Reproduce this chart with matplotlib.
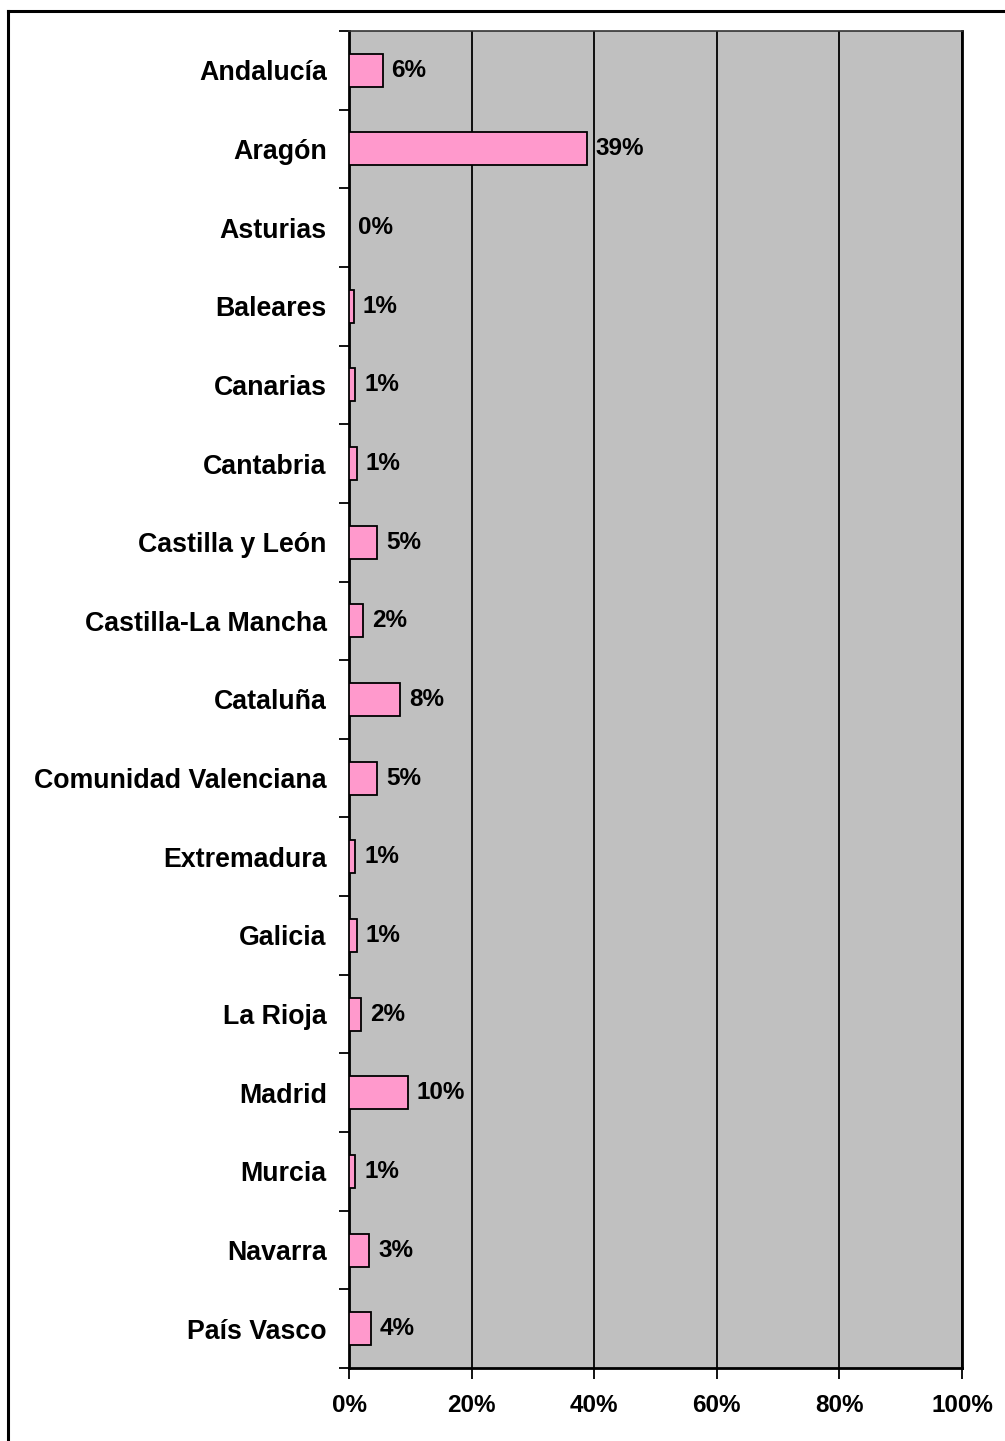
import matplotlib
matplotlib.use("Agg")
import matplotlib.pyplot as plt
from matplotlib.lines import Line2D
import numpy as np

regions = ["Andalucía", "Aragón", "Asturias", "Baleares", "Canarias", "Cantabria",
           "Castilla y León", "Castilla-La Mancha", "Cataluña", "Comunidad Valenciana",
           "Extremadura", "Galicia", "La Rioja", "Madrid", "Murcia", "Navarra", "País Vasco"]
values = [5.5, 38.8, 0.0, 0.8, 1.0, 1.3, 4.6, 2.3, 8.4, 4.6, 1.0, 1.3, 2.0, 9.6, 1.0, 3.3, 3.6]
labels = ["6%", "39%", "0%", "1%", "1%", "1%", "5%", "2%", "8%", "5%", "1%", "1%", "2%",
          "10%", "1%", "3%", "4%"]
xticks = [0, 20, 40, 60, 80, 100]
xticklabels = ["0%", "20%", "40%", "60%", "80%", "100%"]

plt.rcParams['font.family'] = ['Liberation Sans', 'DejaVu Sans']
plt.rcParams['font.weight'] = 'bold'

W, H = 1005, 1441
fig = plt.figure(figsize=(W / 100, H / 100), dpi=100)
fig.patch.set_facecolor("white")

# outer border (only top and left visible in the reference)
fig.add_artist(Line2D([8 / W, 8 / W], [0, 1 - 11 / H], transform=fig.transFigure,
                      color="black", lw=2.2))
fig.add_artist(Line2D([8 / W, 1], [1 - 11 / H, 1 - 11 / H], transform=fig.transFigure,
                      color="black", lw=2.2))

left, right, top, bottom = 349 / W, 962 / W, 1 - 31 / H, 1 - 1368 / H
ax = fig.add_axes([left, bottom, right - left, top - bottom])
ax.set_facecolor("#C0C0C0")

n = len(regions)
y = np.arange(n)
ax.barh(y, values, height=0.42, color="#FF99CC", edgecolor="black", linewidth=1.3, zorder=3)

for yi, v, lab in zip(y, values, labels):
    ax.text(v + 1.45, yi, lab, va="center", ha="left", fontsize=17.5, fontweight="bold", zorder=4)

ax.set_xlim(0, 100)
ax.set_ylim(n - 0.5, -0.5)
ax.set_xticks(xticks)
ax.set_xticklabels(xticklabels, fontsize=17.5, fontweight="bold")
ax.set_yticks(y)
ax.set_yticklabels(regions, fontsize=19.3, fontweight="bold")
ax.tick_params(axis="y", which="major", length=0, pad=16)
ax.set_yticks(np.arange(-0.5, n, 1.0), minor=True)
ax.tick_params(axis="y", which="minor", length=7, width=1.3, direction="out")
ax.tick_params(axis="x", which="major", length=8, width=1.3, direction="out", pad=10.5)

ax.grid(axis="x", color="black", linewidth=1.3, zorder=1)
ax.set_axisbelow(True)
for side in ["left", "bottom", "right"]:
    ax.spines[side].set_linewidth(2)
    ax.spines[side].set_color("black")
ax.spines["top"].set_linewidth(1.2)
ax.spines["top"].set_color("#333333")

fig.savefig("out.png", dpi=100)
